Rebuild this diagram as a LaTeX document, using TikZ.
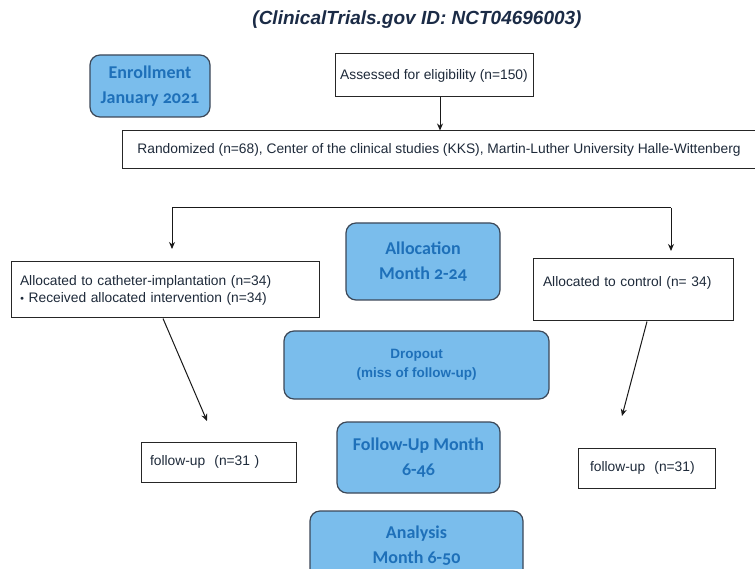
\documentclass[tikz,border=0pt]{standalone}
\usepackage{fontspec}
\setmainfont{Liberation Sans}
\newfontfamily\calfont{Carlito}[Numbers=OldStyle]
\usetikzlibrary{arrows.meta,calc}
\definecolor{boxfill}{RGB}{122,189,236}
\definecolor{boxedge}{RGB}{60,72,88}
\definecolor{bluetext}{RGB}{30,112,185}
\definecolor{bodytext}{RGB}{30,42,58}
\definecolor{titletext}{RGB}{27,43,70}
\tikzset{
  wbox/.style={draw=black!85, line width=1pt, fill=white, inner sep=0pt, anchor=center,
    font=\fontsize{13.8}{17}\selectfont, text=bodytext},
  bbox/.style={draw=boxedge, line width=1.2pt, fill=boxfill, rounded corners=10pt, inner sep=0pt,
    align=center, text=bluetext},
  calbox/.style={bbox, font=\calfont\bfseries\fontsize{18}{24.5}\selectfont},
  arialbox/.style={bbox, font=\bfseries\fontsize{13.5}{19}\selectfont},
  arr/.style={line width=1pt, draw=black!90, -{Stealth[length=7pt,width=6pt]}},
  lin/.style={line width=1pt, draw=black!90}
}
\begin{document}
\begin{tikzpicture}[x=1pt,y=-1pt]
\useasboundingbox (0,0) rectangle (755,569);
\fill[white] (0,0) rectangle (755,569);

\node[font=\bfseries\itshape\fontsize{19}{22}\selectfont, text=titletext] (title) at (417,20) {(ClinicalTrials.gov ID: NCT04696003)};

\node[calbox, minimum width=120pt, minimum height=62pt] (enroll) at (150,86) {Enrollment\\January 2021};
\node[wbox, minimum width=198pt, minimum height=43pt] (assess) at (434,75.5) {Assessed for eligibility (n=150)};
\node[wbox, minimum width=634pt, minimum height=38pt] (rand) at (439,150) {Randomized (n=68), Center of the clinical studies (KKS), Martin-Luther University Halle-Wittenberg};

\node[wbox, minimum width=308pt, minimum height=56pt, text width=290pt, align=left] (lalloc) at (165,290)
  {Allocated to catheter-implantation (n=34)\\ {\fontsize{7}{8}\selectfont\raisebox{2pt}{$\bullet$}} Received allocated intervention (n=34)};
\node[calbox, minimum width=154pt, minimum height=77pt] (alloc) at (423,261.5) {Allocation\\Month 2-24};
\node[wbox, minimum width=200pt, minimum height=62pt, text width=180pt, align=left] (ralloc) at (633,290)
  {Allocated to control (n= 34)\\ \mbox{}};

\node[arialbox, minimum width=265pt, minimum height=68pt] (drop) at (416.5,365) {Dropout\\(miss of follow-up)};

\node[wbox, minimum width=155pt, minimum height=40pt, text width=137pt, align=left] (lfu) at (218.5,462) {follow-up\ \ (n=31 )};
\node[calbox, minimum width=163pt, minimum height=71pt] (fumonth) at (418.5,457.5) {Follow-Up Month\\6-46};
\node[wbox, minimum width=137pt, minimum height=40pt, text width=113pt, align=left] (rfu) at (646.5,468) {follow-up\ \ (n=31)};

\node[calbox, minimum width=213pt, minimum height=69pt] (analysis) at (416.5,545.5) {Analysis\\Month 6-50};

% connectors
\draw[arr] ([xshift=6pt]assess.south) -- ([xshift=6pt]assess.south |- rand.north);

\coordinate (brL) at (172,208);
\coordinate (brR) at (671,208);
\coordinate (tipL) at (172,249);
\coordinate (tipR) at (671,251);
\draw[lin] (brL) -- (brR);
\draw[arr] (brL) -- (tipL);
\draw[arr] (brR) -- (tipR);

\coordinate (ltip) at (207,421);
\coordinate (rtip) at (622,416);
\draw[arr] ([xshift=-2pt]lalloc.south) -- (ltip);
\draw[arr] ([xshift=14pt]ralloc.south) -- (rtip);
\end{tikzpicture}
\end{document}
